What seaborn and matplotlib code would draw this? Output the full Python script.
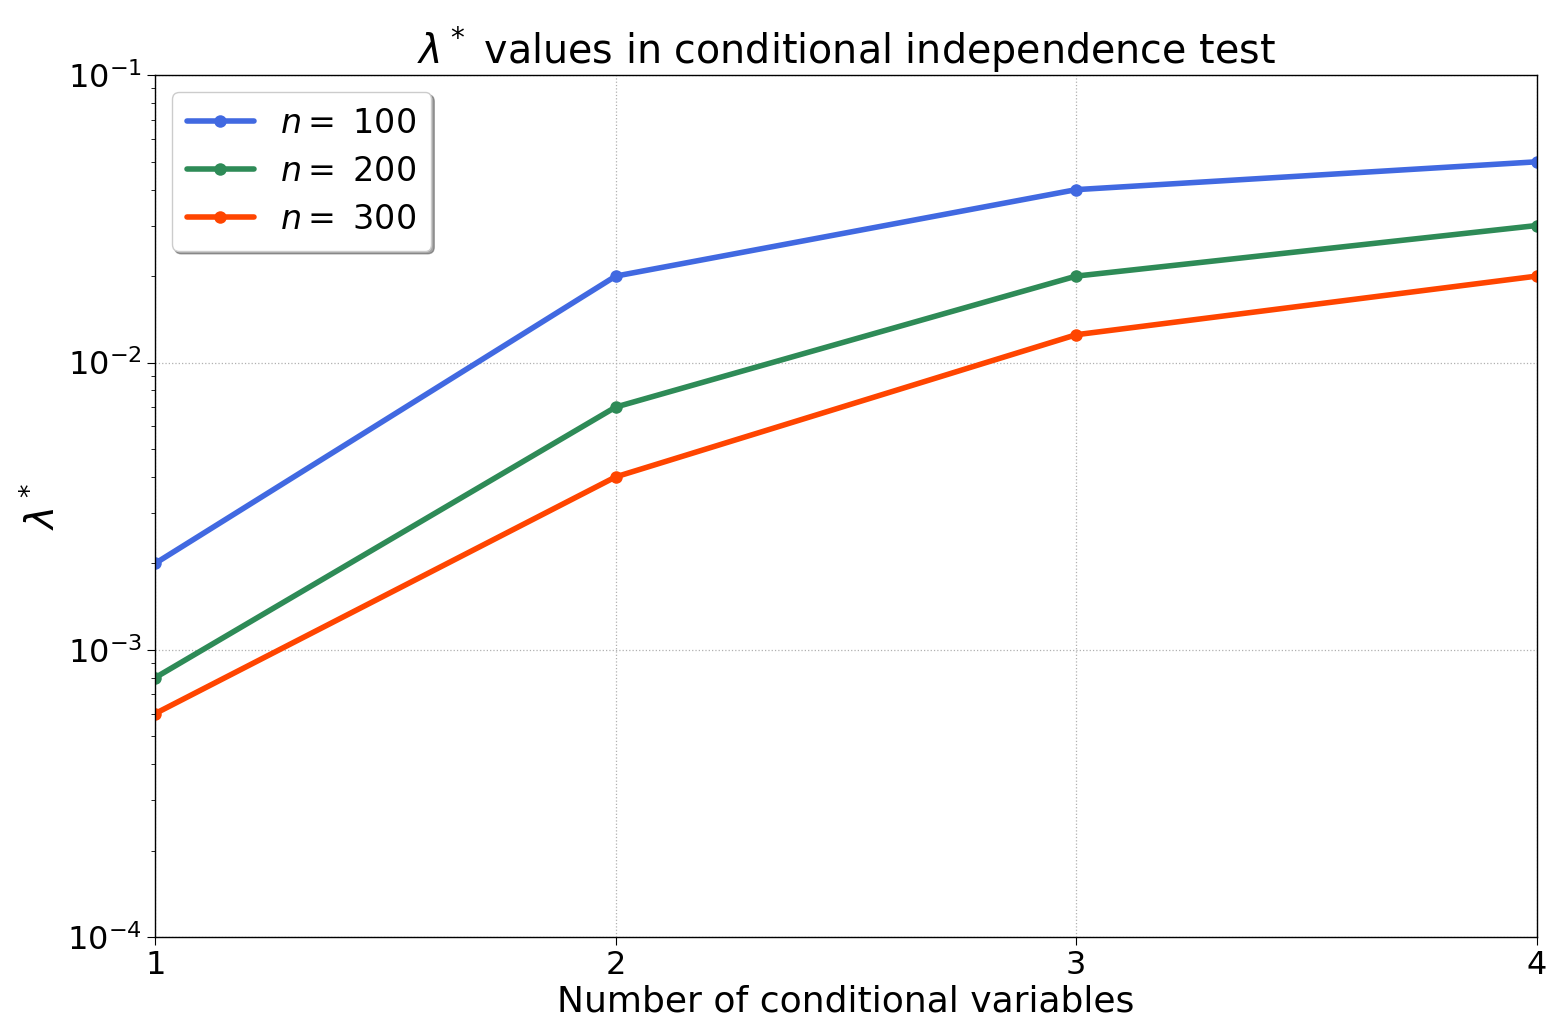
import numpy as np
import pandas as pd
import matplotlib
matplotlib.use("Agg")
import matplotlib.pyplot as plt
import seaborn as sns

# data
num_vars = [1, 2, 3, 4]
lam_n100 = [0.002, 0.02, 0.04, 0.05]
lam_n200 = [0.0008, 0.007, 0.02, 0.03]
lam_n300 = [0.0006, 0.004, 0.0125, 0.02]
sample_sizes = [100, 200, 300]
colors = ["royalblue", "seagreen", "orangered"]

sns.set_style("ticks")
plt.rcParams["font.family"] = ["DejaVu Sans"]
plt.rcParams["mathtext.fontset"] = "dejavusans"
plt.rcParams["text.color"] = "black"
plt.rcParams["axes.labelcolor"] = "black"
plt.rcParams["xtick.color"] = "black"
plt.rcParams["ytick.color"] = "black"

rows = []
for n, vals in zip(sample_sizes, [lam_n100, lam_n200, lam_n300]):
    for x, v in zip(num_vars, vals):
        rows.append({"vars": x, "lam": v, "n": f"$n=$ {n}"})
df = pd.DataFrame(rows)

fig = plt.figure(figsize=(15.68, 10.32), dpi=100)
ax = fig.add_axes([0.099, 0.092, 0.881, 0.835])

sns.lineplot(
    data=df, x="vars", y="lam", hue="n", palette=colors,
    marker="o", markersize=9, markeredgewidth=0, linewidth=4, ax=ax,
)

ax.set_yscale("log")
ax.set_ylim(1e-4, 1e-1)
ax.set_xlim(1, 4)
ax.set_xticks(num_vars)
ax.grid(True, which="major", linestyle=":", color="#b0b0b0", linewidth=0.9)
ax.tick_params(axis="both", which="major", labelsize=23, length=6, direction="out")
ax.tick_params(axis="y", which="minor", length=3)
for s in ax.spines.values():
    s.set_color("black")
    s.set_linewidth(1.0)

ax.set_title(r"$\lambda^*$ values in conditional independence test", fontsize=28.5, pad=5)
ax.set_xlabel("Number of conditional variables", fontsize=26, labelpad=2)
ax.set_ylabel(r"$\lambda^*$", fontsize=28)

leg = ax.legend(loc="upper left", fontsize=24, frameon=True, shadow=True,
                fancybox=True, handlelength=2.0, borderpad=0.45,
                labelspacing=0.45, title=None)
leg.get_frame().set_edgecolor("#cccccc")

fig.savefig("out.png", dpi=100)
